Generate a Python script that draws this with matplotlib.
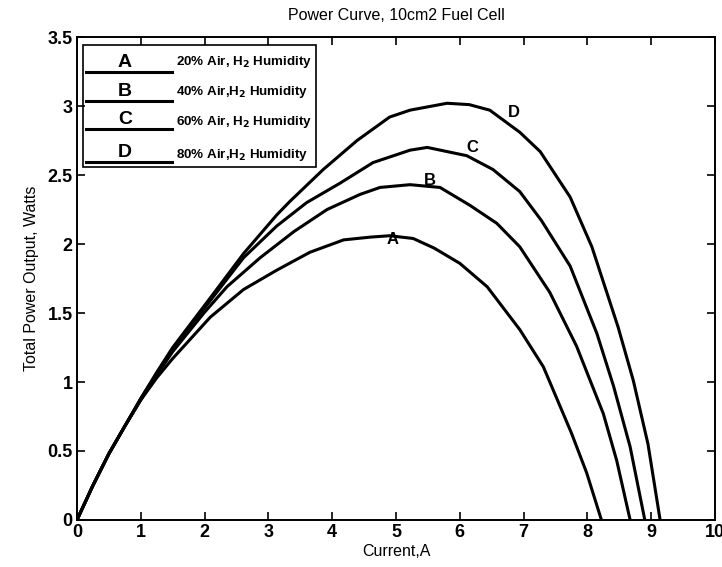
import numpy as np
from matplotlib import pyplot as plt

plt.rcParams['font.family'] = ['Liberation Sans', 'DejaVu Sans']

# current (A) and power (W), one pair of lists per curve
xA = [0, 0.25, 0.5, 0.75, 1.0, 1.25, 1.5, 2.09, 2.61, 3.13, 3.65, 4.18, 4.6, 4.9, 5.27, 5.6, 6.0, 6.43, 6.94, 7.31, 7.75, 7.99, 8.22]
yA = [0, 0.25, 0.48, 0.68, 0.87, 1.03, 1.17, 1.47, 1.67, 1.81, 1.94, 2.03, 2.05, 2.06, 2.04, 1.97, 1.86, 1.69, 1.38, 1.11, 0.63, 0.34, 0.0]
xB = [0, 0.25, 0.5, 0.75, 1.0, 1.25, 1.5, 1.99, 2.35, 2.87, 3.4, 3.92, 4.44, 4.75, 5.22, 5.69, 6.16, 6.58, 6.94, 7.41, 7.83, 8.25, 8.46, 8.67]
yB = [0, 0.25, 0.48, 0.68, 0.87, 1.05, 1.22, 1.50, 1.69, 1.90, 2.09, 2.25, 2.36, 2.41, 2.43, 2.41, 2.28, 2.15, 1.98, 1.65, 1.26, 0.77, 0.43, 0.0]
xC = [0, 0.25, 0.5, 0.75, 1.0, 1.25, 1.5, 2.09, 2.61, 3.13, 3.6, 4.12, 4.64, 5.22, 5.49, 6.11, 6.52, 6.94, 7.28, 7.73, 8.15, 8.41, 8.67, 8.9]
yC = [0, 0.25, 0.48, 0.68, 0.88, 1.06, 1.24, 1.59, 1.90, 2.13, 2.30, 2.44, 2.59, 2.68, 2.70, 2.64, 2.54, 2.38, 2.17, 1.84, 1.35, 0.97, 0.53, 0.0]
xD = [0, 0.25, 0.5, 0.75, 1.0, 1.25, 1.5, 2.09, 2.61, 3.13, 3.34, 3.86, 4.39, 4.9, 5.22, 5.8, 6.15, 6.47, 6.94, 7.26, 7.73, 8.07, 8.48, 8.72, 8.95, 9.14]
yD = [0, 0.25, 0.48, 0.68, 0.88, 1.07, 1.25, 1.61, 1.93, 2.21, 2.31, 2.54, 2.75, 2.92, 2.97, 3.02, 3.01, 2.97, 2.81, 2.67, 2.34, 1.98, 1.40, 1.01, 0.55, 0.0]

letters = ['A', 'B', 'C', 'D']
legend_text = [r'20% Air, H$_\mathbf{2}$ Humidity', r'40% Air,H$_\mathbf{2}$ Humidity',
               r'60% Air, H$_\mathbf{2}$ Humidity', r'80% Air,H$_\mathbf{2}$ Humidity']
# where the letter tags sit on the curves
tag_x = [4.95, 5.53, 6.2, 6.85]
tag_y = [2.03, 2.46, 2.70, 2.95]

fig = plt.figure(figsize=(7.22, 5.67), dpi=100)
ax = fig.add_axes([0.1066, 0.0829, 0.8837, 0.8518])

for xs, ys in zip([xA, xB, xC, xD], [yA, yB, yC, yD]):
	ax.plot(xs, ys, color='black', lw=2.2, solid_joinstyle='round')

for l, tx, ty in zip(letters, tag_x, tag_y):
	ax.text(tx, ty, l, fontsize=12, fontweight='bold', ha='center', va='center')

ax.set_xlim(0, 10)
ax.set_ylim(0, 3.5)
ax.set_xticks(np.arange(0, 11, 1))
ax.set_yticks(np.arange(0, 3.51, 0.5))
ax.set_xticklabels([str(i) for i in range(11)])
ax.set_yticklabels(['0', '0.5', '1', '1.5', '2', '2.5', '3', '3.5'])
ax.tick_params(direction='in', top=True, right=True, length=6, width=1.2, labelsize=13, pad=3)
for lab in ax.get_xticklabels() + ax.get_yticklabels():
	lab.set_fontweight('bold')
for sp in ax.spines.values():
	sp.set_linewidth(1.4)

ax.set_title('Power Curve, 10cm2 Fuel Cell', fontsize=11.5, pad=12)
ax.set_xlabel('Current,A', fontsize=11.5, labelpad=2)
ax.set_ylabel('Total Power Output, Watts', fontsize=11.5, labelpad=6)

# hand drawn style legend box, upper left
ax.add_patch(plt.Rectangle((0.0094, 0.731), 0.3652, 0.252, transform=ax.transAxes,
	fill=False, lw=1.2, ec='black', zorder=5))
line_y = [0.9275, 0.8675, 0.8095, 0.741]
text_y = [0.948, 0.886, 0.824, 0.756]
for l, t, ly, tyy in zip(letters, legend_text, line_y, text_y):
	ax.plot([0.0141, 0.149], [ly, ly], transform=ax.transAxes, color='black', lw=2.2, zorder=6)
	ax.text(0.075, ly + 0.002, l, transform=ax.transAxes, fontsize=14, fontweight='bold',
		ha='center', va='bottom', zorder=6)
	ax.text(0.156, tyy, t, transform=ax.transAxes, fontsize=9.6, fontweight='bold',
		ha='left', va='center', zorder=6)

fig.savefig('out.png', dpi=100)
